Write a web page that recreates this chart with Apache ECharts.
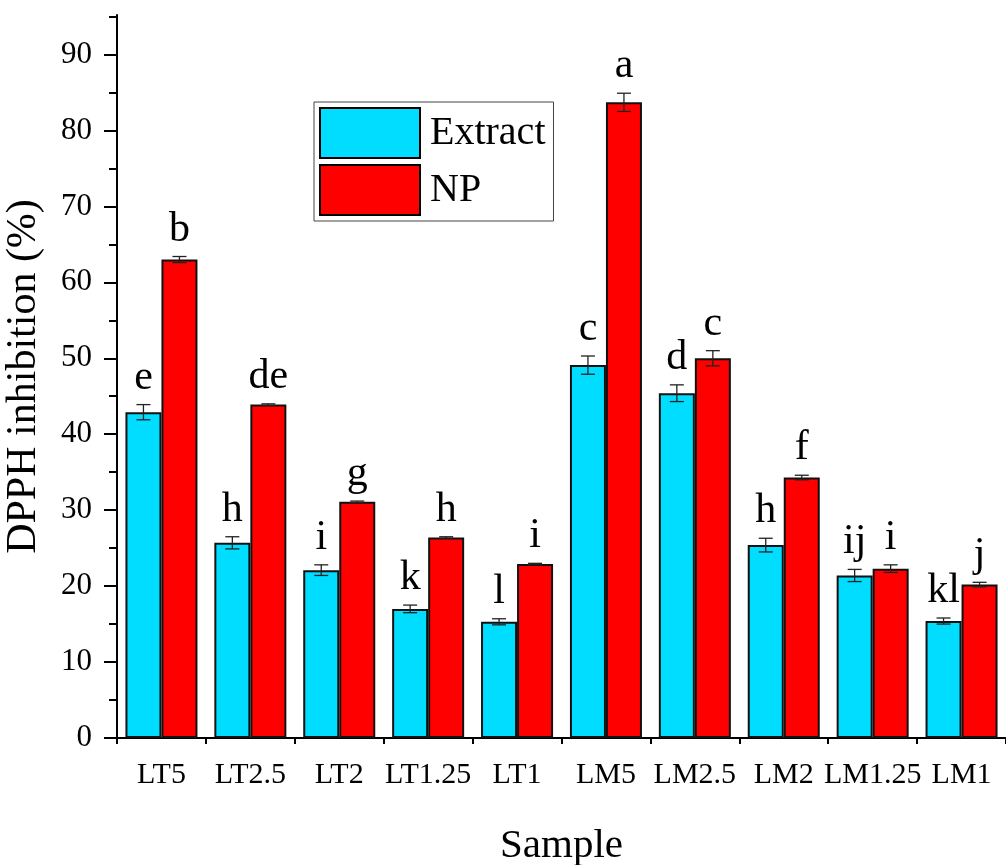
<!DOCTYPE html>
<html>
<head>
<meta charset="utf-8">
<script src="https://cdn.jsdelivr.net/npm/echarts@6/dist/echarts.min.js"></script>
<style>
html,body{margin:0;padding:0;background:#fff;}
#chart{width:1006px;height:865px;}
</style>
</head>
<body>
<div id="chart"></div>
<script>
const categories = ['LT5','LT2.5','LT2','LT1.25','LT1','LM5','LM2.5','LM2','LM1.25','LM1'];
const extract = [42.9, 25.7, 22.1, 17.0, 15.3, 49.1, 45.4, 25.4, 21.4, 15.4];
const extractErr = [1.0, 0.8, 0.7, 0.5, 0.4, 1.2, 1.1, 0.9, 0.8, 0.4];
const np = [63.0, 43.9, 31.1, 26.4, 22.9, 83.7, 50.0, 34.3, 22.3, 20.2];
const npErr = [0.4, 0.1, 0.1, 0.1, 0.1, 1.2, 1.0, 0.3, 0.5, 0.3];
const extractLetters = ['e','h','i','k','l','c','d','h','ij','kl'];
const npLetters = ['b','de','g','h','i','a','c','f','i','j'];
const yTicks = [0,10,20,30,40,50,60,70,80,90];

const FONT = 'Liberation Serif';
const chart = echarts.init(document.getElementById('chart'));

function errSeries(vals, errs, letters, sign) {
  return {
    type: 'custom',
    xAxisIndex: 0, yAxisIndex: 0,
    z: 10,
    silent: true,
    data: vals.map((v, i) => [i, v, errs[i]]),
    encode: {x: 0, y: 1},
    renderItem: function (params, api) {
      const i = api.value(0), v = api.value(1), e = api.value(2);
      const band = api.size([1, 0])[0];
      const bw = band * 0.405;
      const x = api.coord([i, v])[0] + sign * bw / 2;
      const yTop = api.coord([i, v + e])[1];
      const yBot = api.coord([i, v - e])[1];
      const cap = 7;
      const ls = {stroke: '#222', lineWidth: 1.3};
      return {
        type: 'group',
        children: [
          {type: 'line', shape: {x1: x, y1: yTop, x2: x, y2: yBot}, style: ls},
          {type: 'line', shape: {x1: x - cap, y1: yTop, x2: x + cap, y2: yTop}, style: ls},
          {type: 'line', shape: {x1: x - cap, y1: yBot, x2: x + cap, y2: yBot}, style: ls},
          {type: 'text', style: {text: letters[params.dataIndex], x: x, y: yTop - 6,
            align: 'center', verticalAlign: 'bottom', fontSize: 42, fontFamily: FONT, fill: '#000'}}
        ]
      };
    }
  };
}

const option = {
  animation: false,
  backgroundColor: '#fff',
  grid: {left: 117, right: 0, top: 15, bottom: 127, outerBoundsMode: 'none', containLabel: false},
  legend: {
    orient: 'vertical',
    left: 314, top: 102,
    padding: [5, 8, 5, 5],
    itemWidth: 100, itemHeight: 50, itemGap: 5,
    borderColor: '#444', borderWidth: 1, backgroundColor: '#fff',
    icon: 'rect',
    itemStyle: {borderColor: '#000', borderWidth: 2},
    textStyle: {fontFamily: FONT, fontSize: 40, color: '#000', padding: [0, 0, 0, 5]},
    data: ['Extract', 'NP']
  },
  xAxis: [{
    type: 'category',
    data: categories,
    name: 'Sample',
    nameLocation: 'middle',
    nameGap: 88,
    nameTextStyle: {fontFamily: FONT, fontSize: 41, color: '#000'},
    axisLine: {lineStyle: {color: '#000', width: 2}},
    axisTick: {alignWithLabel: true, length: 12, lineStyle: {color: '#000', width: 2}},
    axisLabel: {interval: 0, margin: 22, fontFamily: FONT, fontSize: 30, color: '#000'},
    splitLine: {show: false}
  }, {
    type: 'category',
    data: categories,
    position: 'bottom',
    axisLine: {show: false},
    axisTick: {show: true, length: 6, interval: 0, lineStyle: {color: '#000', width: 2}},
    axisLabel: {show: false},
    splitLine: {show: false}
  }],
  yAxis: {
    type: 'value',
    min: 0, max: 95.2, interval: 10,
    name: 'DPPH inhibition (%)',
    nameLocation: 'middle',
    nameGap: 72,
    nameTextStyle: {fontFamily: FONT, fontSize: 42, color: '#000'},
    axisLine: {show: true, lineStyle: {color: '#000', width: 2}},
    axisTick: {show: true, length: 13, customValues: yTicks, lineStyle: {color: '#000', width: 2}},
    minorTick: {show: true, splitNumber: 2, length: 8, lineStyle: {color: '#000', width: 2}},
    axisLabel: {margin: 25, customValues: yTicks, fontFamily: FONT, fontSize: 31, color: '#000'},
    splitLine: {show: false},
    minorSplitLine: {show: false}
  },
  series: [
    {name: 'Extract', type: 'bar', data: extract, barWidth: '40.5%', barGap: '0%',
     itemStyle: {color: '#00DDFF', borderColor: '#111', borderWidth: 2}},
    {name: 'NP', type: 'bar', data: np, barWidth: '40.5%', barGap: '0%',
     itemStyle: {color: '#FF0000', borderColor: '#111', borderWidth: 2}},
    errSeries(extract, extractErr, extractLetters, -1),
    errSeries(np, npErr, npLetters, 1)
  ]
};
chart.setOption(option);
</script>
</body>
</html>
